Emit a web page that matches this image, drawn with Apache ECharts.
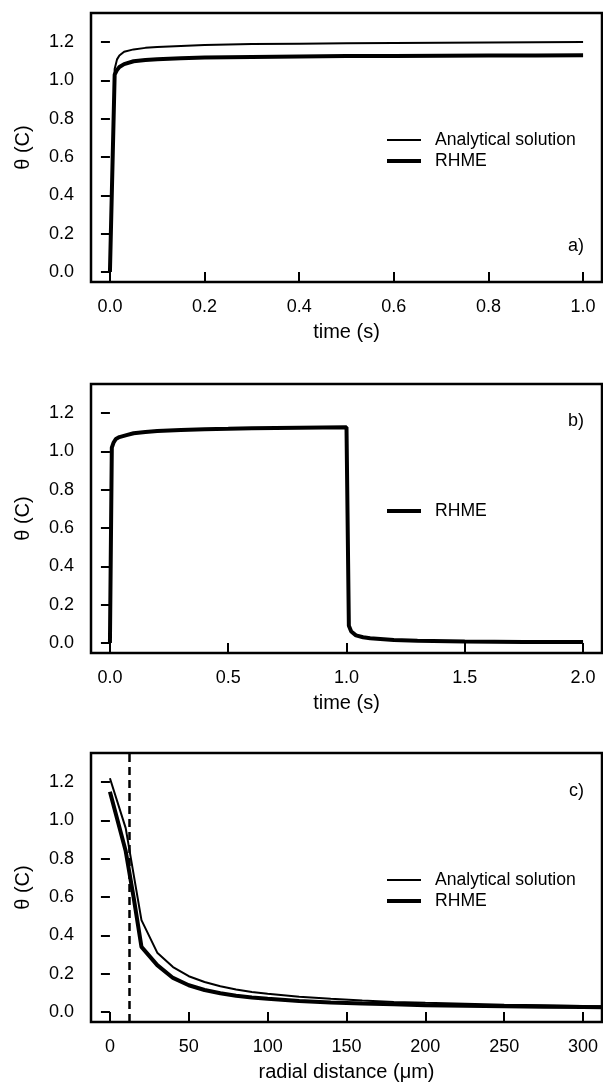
<!DOCTYPE html>
<html style="height: 100%">
<head>
<meta charset="utf-8">
<script src="https://cdn.jsdelivr.net/npm/echarts@6/dist/echarts.min.js"></script>
</head>
<body style="height: 100%; margin: 0; background: #fff">
<div id="container" style="width: 603px; height: 1087px"></div>
<script>
// panel a) step response, t in s
var timeA = [0, 0.01, 0.015, 0.02, 0.03, 0.05, 0.075, 0.1, 0.15, 0.2, 0.3, 0.4, 0.5, 0.6, 0.7, 0.8, 0.9, 1.0];
var analyticA = [0, 1.06, 1.11, 1.13, 1.15, 1.162, 1.17, 1.175, 1.18, 1.185, 1.19, 1.192, 1.194, 1.196, 1.197, 1.198, 1.199, 1.2];
var rhmeA = [0, 1.03, 1.055, 1.07, 1.085, 1.1, 1.107, 1.111, 1.116, 1.12, 1.123, 1.125, 1.127, 1.128, 1.129, 1.13, 1.13, 1.131];

// panel b) on/off pulse
var timeB = [0, 0.008, 0.015, 0.025, 0.04, 0.07, 0.1, 0.15, 0.2, 0.3, 0.4, 0.5, 0.6, 0.7, 0.8, 0.9, 1.0,
             1.01, 1.02, 1.04, 1.07, 1.1, 1.2, 1.3, 1.5, 1.75, 2.0];
var rhmeB = [0, 1.02, 1.045, 1.065, 1.075, 1.085, 1.095, 1.102, 1.107, 1.112, 1.116, 1.118, 1.121, 1.123, 1.124, 1.125, 1.126,
             0.09, 0.06, 0.04, 0.03, 0.025, 0.016, 0.012, 0.008, 0.006, 0.005];

// panel c) radial profile, r in um
var radiusAnalytic = [0, 10, 20, 30, 40, 50, 60, 70, 80, 90, 100, 120, 140, 160, 180, 200, 225, 250, 275, 300, 320];
var analyticC = [1.22, 0.96, 0.48, 0.31, 0.235, 0.187, 0.157, 0.135, 0.118, 0.105, 0.095, 0.08, 0.069, 0.06, 0.053, 0.048, 0.043, 0.038, 0.035, 0.032, 0.03];
var radiusRhme = [0, 10, 15, 20, 30, 40, 50, 60, 70, 80, 90, 100, 120, 140, 160, 180, 200, 225, 250, 275, 300, 320];
var rhmeC = [1.15, 0.84, 0.6, 0.34, 0.245, 0.178, 0.14, 0.115, 0.098, 0.085, 0.076, 0.069, 0.058, 0.05, 0.044, 0.04, 0.036, 0.033, 0.03, 0.028, 0.026, 0.025];
var cellRadius = 12.5;

var yTicks = [0, 0.2, 0.4, 0.6, 0.8, 1.0, 1.2];
var xTicksA = [0, 0.2, 0.4, 0.6, 0.8, 1.0];
var xTicksB = [0, 0.5, 1.0, 1.5, 2.0];
var xTicksC = [0, 50, 100, 150, 200, 250, 300];

function pairs(xs, ys) {
    var out = [];
    for (var i = 0; i < xs.length; i++) out.push([xs[i], ys[i]]);
    return out;
}

var font = 'Liberation Sans';
var tickStyle = { show: true, inside: false, length: 9, lineStyle: { color: '#000', width: 2 } };

function xAxisFor(idx, min, max, ticks, digits, name) {
    return {
        type: 'value', gridIndex: idx, min: min, max: max,
        axisLine: { show: false }, splitLine: { show: false },
        axisTick: Object.assign({ customValues: ticks }, tickStyle),
        axisLabel: {
            customValues: ticks, margin: 16, color: '#000', fontFamily: font, fontSize: 18,
            formatter: function (v) { return v.toFixed(digits); }
        },
        name: name, nameLocation: 'middle', nameGap: 40,
        nameTextStyle: { color: '#000', fontFamily: font, fontSize: 20 }
    };
}

function yAxisFor(idx) {
    return {
        type: 'value', gridIndex: idx, min: -0.052, max: 1.352,
        axisLine: { show: false }, splitLine: { show: false },
        axisTick: Object.assign({ customValues: yTicks }, tickStyle),
        axisLabel: {
            customValues: yTicks, margin: 17, color: '#000', fontFamily: font, fontSize: 18,
            formatter: function (v) { return v.toFixed(1); }
        },
        name: 'θ (C)', nameLocation: 'middle', nameGap: 58,
        nameTextStyle: { color: '#000', fontFamily: font, fontSize: 20 }
    };
}

function line(name, idx, data, width) {
    return {
        name: name, type: 'line', xAxisIndex: idx, yAxisIndex: idx, data: data,
        symbol: 'none', showSymbol: false, smooth: false, animation: false,
        lineStyle: { color: '#000', width: width }, itemStyle: { color: '#000' }
    };
}

function legendAt(top, names) {
    return {
        orient: 'vertical', left: 385, top: top, padding: 0, itemWidth: 34, itemHeight: 17, itemGap: 3,
        data: names, selectedMode: false,
        itemStyle: { color: 'transparent', borderWidth: 0, opacity: 0 },
        lineStyle: { width: 'inherit', color: '#000', opacity: 1 },
        textStyle: { color: '#000', fontFamily: font, fontSize: 17.6, padding: [0, 0, 0, 9] }
    };
}

var dom = document.getElementById('container');
var myChart = echarts.init(dom, null, { renderer: 'canvas' });

var gridBox = { show: true, left: 91, width: 511, height: 269, borderColor: '#000', borderWidth: 2.5, backgroundColor: 'transparent' };

var rhmeCSeries = line('RHME', 2, pairs(radiusRhme, rhmeC), 4);
rhmeCSeries.markLine = {
    silent: true, symbol: 'none', animation: false, label: { show: false },
    lineStyle: { color: '#000', width: 2.5, type: [8, 5] },
    data: [{ xAxis: cellRadius }]
};

var panelFont = '18px "Liberation Sans"';

var option = {
    backgroundColor: '#fff',
    animation: false,
    grid: [
        Object.assign({ top: 13 }, gridBox),
        Object.assign({ top: 384 }, gridBox),
        Object.assign({ top: 753, height: 270 }, gridBox)
    ],
    xAxis: [
        xAxisFor(0, -0.04, 1.04, xTicksA, 1, 'time (s)'),
        xAxisFor(1, -0.08, 2.08, xTicksB, 1, 'time (s)'),
        xAxisFor(2, -12, 312, xTicksC, 0, 'radial distance (μm)')
    ],
    yAxis: [yAxisFor(0), yAxisFor(1), yAxisFor(2)],
    legend: [
        legendAt(131, ['Analytical solution', 'RHME']),
        legendAt(502, ['RHME']),
        legendAt(871, ['Analytical solution', 'RHME'])
    ],
    graphic: [
        { type: 'text', right: 19, top: 237, style: { text: 'a)', fill: '#000', font: panelFont } },
        { type: 'text', right: 19, top: 412, style: { text: 'b)', fill: '#000', font: panelFont } },
        { type: 'text', right: 19, top: 782, style: { text: 'c)', fill: '#000', font: panelFont } }
    ],
    series: [
        line('Analytical solution', 0, pairs(timeA, analyticA), 2),
        line('RHME', 0, pairs(timeA, rhmeA), 4),
        line('RHME', 1, pairs(timeB, rhmeB), 4),
        line('Analytical solution', 2, pairs(radiusAnalytic, analyticC), 2),
        rhmeCSeries
    ]
};

if (option && typeof option === 'object') {
    myChart.setOption(option);
}
</script>
</body>
</html>
